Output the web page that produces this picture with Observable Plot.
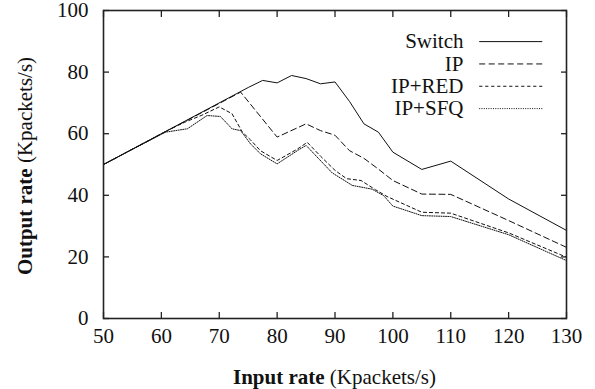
<!DOCTYPE html>
<html><head><meta charset="utf-8">
<script src="https://cdn.jsdelivr.net/npm/d3@7"></script>
<script src="https://cdn.jsdelivr.net/npm/@observablehq/plot@0.6"></script>
<style>
body{margin:0;background:#fff;font-family:'Liberation Serif',serif}
#wrap{position:relative;width:595px;height:389px}
#titles{position:absolute;left:0;top:0;pointer-events:none}
</style>
</head><body>
<div id="wrap">
<div id="chart"></div>
<svg id="titles" width="595" height="389" font-family="Liberation Serif" font-size="21" fill="#111">
  <text x="334.5" y="384" text-anchor="middle"><tspan font-weight="bold">Input rate</tspan><tspan> (Kpackets/s)</tspan></text>
  <text transform="translate(32,166) rotate(-90)" text-anchor="middle"><tspan font-weight="bold">Output rate</tspan><tspan> (Kpackets/s)</tspan></text>
</svg>
</div>
<script>
const seriesNames = ["Switch", "IP", "IP+RED", "IP+SFQ"];

const switchX = [50, 75, 77.5, 80, 82.5, 85, 87.5, 90, 92.5, 95, 97.5, 100, 105, 110, 120, 130];
const switchY = [50, 75, 77.3, 76.5, 78.9, 77.9, 76.2, 76.8, 70.5, 63.2, 60.5, 54, 48.4, 51.1, 38.8, 28.6];

const ipX = [50, 73.7, 80, 85, 87.5, 90, 92.5, 95, 97.5, 100, 105, 110, 120, 130];
const ipY = [50, 73.5, 58.9, 63.2, 61, 59.5, 54.5, 52, 48.5, 44.8, 40.4, 40.3, 31.8, 23.1];

const redX = [50, 61, 64, 67, 70, 72.2, 74, 75.4, 77.1, 80, 83.5, 85.2, 87.5, 90, 92, 94.5, 97, 99, 105, 110, 120, 130];
const redY = [50, 61, 63.7, 66, 68.7, 66.5, 60.5, 58, 54.5, 51.3, 55, 57.2, 52.7, 48.1, 45.4, 44.8, 41.8, 39.6, 34.5, 34.2, 27.8, 19.9];

const sfqX = [50, 60.7, 64.5, 67.9, 70.2, 72.2, 73.7, 75.4, 77.1, 80, 83.5, 85, 89.5, 93, 96.4, 98.4, 100, 105, 110, 120, 130];
const sfqY = [50, 60.5, 61.6, 65.9, 65.6, 61.6, 61, 56.7, 53.5, 50.2, 54.5, 56.2, 47.3, 43.2, 42, 39.9, 36.5, 33.4, 33.1, 27.2, 18.8];

const xTicks = [50, 60, 70, 80, 90, 100, 110, 120, 130];
const yTicks = [0, 20, 40, 60, 80, 100];

const seriesXs = [switchX, ipX, redX, sfqX];
const seriesYs = [switchY, ipY, redY, sfqY];
const dashes = [null, "6,3.5", "3.2,2.8", "1,1.3"];

const data = seriesNames.map((name, i) => seriesXs[i].map((x, j) => ({s: name, x, y: seriesYs[i][j]})));

// legend placement (in data units of the chart)
const legend = seriesNames.map((name, i) => ({name, y: 89.9 - i * 7.25}));

const plot = Plot.plot({
  width: 595, height: 389,
  marginLeft: 103, marginRight: 29, marginTop: 10, marginBottom: 71,
  style: {fontFamily: "Liberation Serif", fontSize: "21px", color: "#111", background: "#fff"},
  x: {domain: [50, 130]},
  y: {domain: [0, 100]},
  marks: [
    ...data.map((d, i) => Plot.line(d, {x: "x", y: "y", stroke: "#111", strokeWidth: 1, strokeDasharray: dashes[i]})),
    Plot.frame({stroke: "#222", strokeWidth: 1.6}),
    Plot.axisX(xTicks, {tickSize: -6, tickPadding: 16, label: null, stroke: "#222", strokeWidth: 1.3}),
    Plot.axisX(xTicks, {anchor: "top", tickSize: -6, tickFormat: () => "", label: null, stroke: "#222", strokeWidth: 1.3}),
    Plot.axisY(yTicks, {tickSize: -6, tickPadding: 21, label: null, stroke: "#222", strokeWidth: 1.3}),
    Plot.axisY(yTicks, {anchor: "right", tickSize: -6, tickFormat: () => "", label: null, stroke: "#222", strokeWidth: 1.3}),
    Plot.text(legend, {x: 112.2, y: "y", text: "name", textAnchor: "end", fontSize: 21, fill: "#111"}),
    ...legend.map((l, i) => Plot.ruleY([l], {y: "y", x1: 115, x2: 125.9, stroke: "#111", strokeWidth: 1, strokeDasharray: dashes[i]}))
  ]
});

document.getElementById("chart").appendChild(plot);
</script>
</body></html>
